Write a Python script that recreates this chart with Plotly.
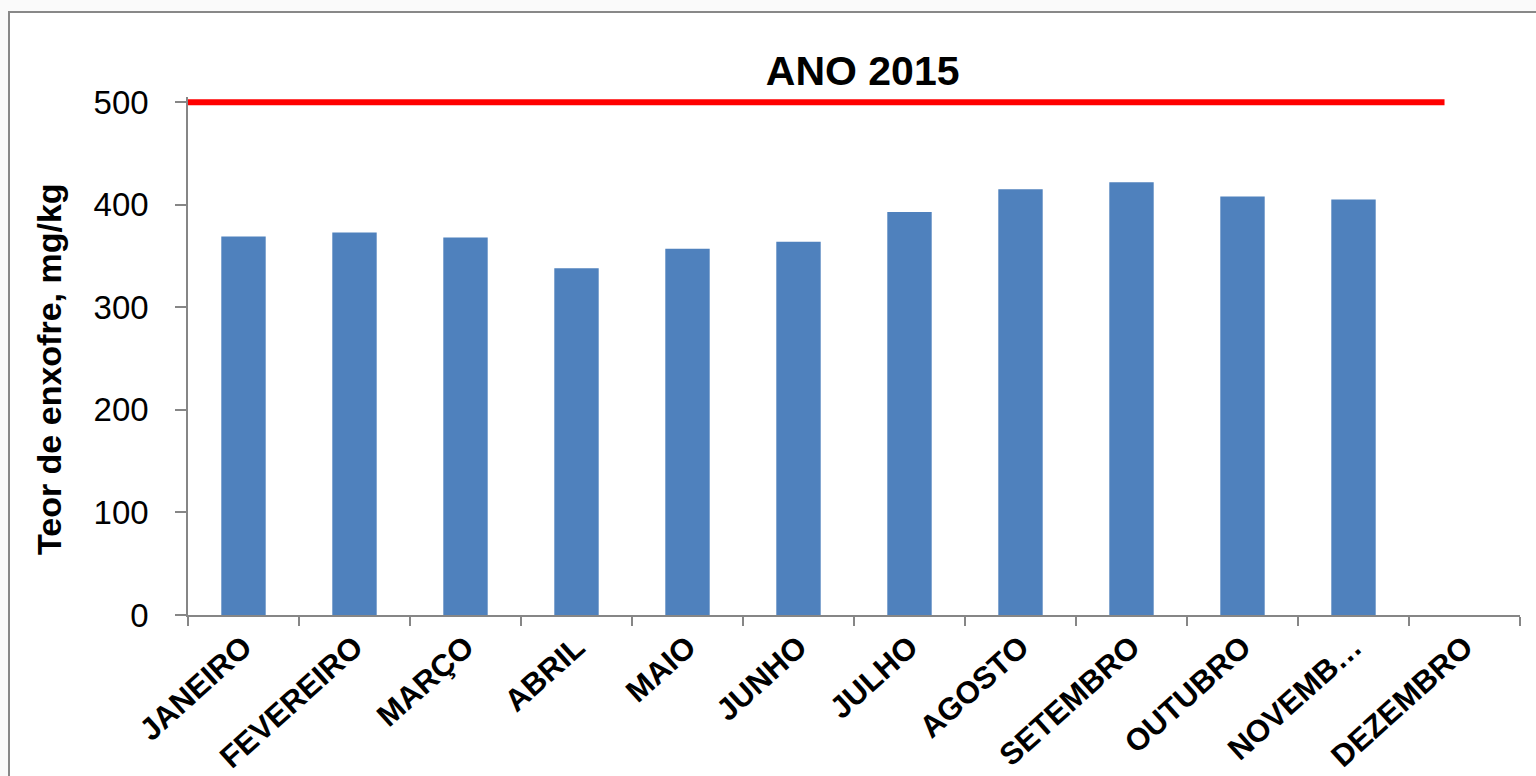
import plotly.graph_objects as go

months = ["JANEIRO", "FEVEREIRO", "MARÇO", "ABRIL", "MAIO", "JUNHO", "JULHO",
          "AGOSTO", "SETEMBRO", "OUTUBRO", "NOVEMB…", "DEZEMBRO"]
sulfur = [369, 373, 368, 338, 357, 364, 393, 415, 422, 408, 405, None]
limit_value = [500]
limit_span = [-0.5, 10.82]
y_ticks = [0, 100, 200, 300, 400, 500]

W, H = 1536, 776
L, R, T, B = 188, 16, 97, 161
pw = W - L - R
ph = H - T - B

def px_to_paper_x(px):
    return (px - L) / pw

def px_to_paper_y(py):
    return (H - B - py) / ph

FONT = "Liberation Sans, Arial, sans-serif"

fig = go.Figure()
fig.add_trace(go.Bar(
    x=months, y=sulfur, marker=dict(color="#4F81BD", line=dict(width=0)),
    showlegend=False, hoverinfo="x+y"))

fig.update_layout(
    width=W, height=H,
    margin=dict(l=L, r=R, t=T, b=B, autoexpand=False),
    paper_bgcolor="#FAFAFA",
    plot_bgcolor="rgba(0,0,0,0)",
    bargap=0.6,
    title=dict(text="<b>ANO 2015</b>", x=778 / W, y=1 - 71 / H,
               xanchor="center", yanchor="middle", xref="paper", yref="container",
               font=dict(family=FONT, size=41, color="black")),
    font=dict(family=FONT, color="black"),
)
fig.update_xaxes(
    type="category", range=[-0.5, 11.5],
    showline=True, linecolor="#868686", linewidth=1.5,
    ticks="outside", ticklen=9, tickcolor="#868686", tickwidth=1.5,
    tickson="boundaries", tickangle=-42,
    tickfont=dict(family=FONT, size=31, color="black", weight="bold"),
    showgrid=False, zeroline=False,
)
fig.update_yaxes(
    range=[0, 505], tickvals=y_ticks, ticktext=[str(v) for v in y_ticks],
    showline=True, linecolor="#868686", linewidth=1.5,
    ticks="outside", ticklen=11, tickcolor="#868686", tickwidth=1.5,
    ticklabelstandoff=20,
    tickfont=dict(family=FONT, size=33, color="black"),
    showgrid=False, zeroline=False,
)

# reference limit line
fig.add_shape(type="line", xref="x", yref="y",
              x0=limit_span[0], x1=limit_span[1], y0=limit_value[0], y1=limit_value[0],
              line=dict(color="#FF0000", width=6), layer="above")

# outer frame
fig.add_shape(type="rect", xref="paper", yref="paper",
              x0=px_to_paper_x(9), x1=px_to_paper_x(1545),
              y0=px_to_paper_y(800), y1=px_to_paper_y(12),
              line=dict(color="#888888", width=2), fillcolor="white", layer="below")

fig.add_annotation(
    text="<b>Teor de enxofre, mg/kg</b>", textangle=-90,
    xref="paper", yref="paper",
    x=px_to_paper_x(49), y=px_to_paper_y(369),
    xanchor="center", yanchor="middle", showarrow=False,
    font=dict(family=FONT, size=34, color="black"))

fig.write_html(
    "out.html",
    config={"displayModeBar": False},
    post_script="document.body.style.margin='0';document.body.style.padding='0';"
                "document.body.style.overflow='hidden';",
)
